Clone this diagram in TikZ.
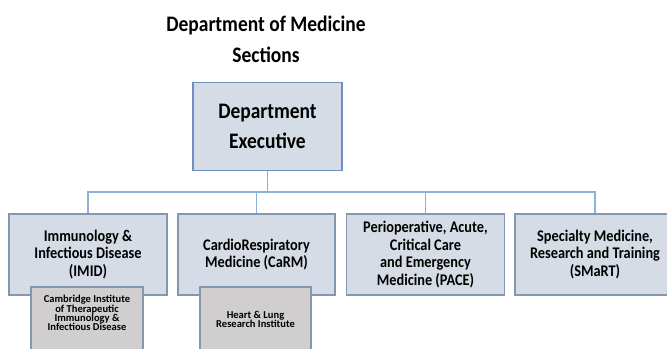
\documentclass[tikz,border=0pt]{standalone}
\usepackage{fontspec}
\setmainfont{Carlito}
\newfontfamily\narrowfont{Carlito}[FakeStretch=0.88]
\usetikzlibrary{positioning}

\definecolor{boxfill}{HTML}{D6DCE5}
\definecolor{subfill}{HTML}{D0CECE}
\definecolor{boxline}{HTML}{8497B0}
\definecolor{execline}{HTML}{6F8FC2}
\definecolor{busline}{HTML}{8FB1D9}

\tikzset{
  section/.style={draw=boxline, fill=boxfill, line width=0.9pt, align=center,
    minimum width=118.5pt, minimum height=60.75pt, inner sep=2pt,
    font=\narrowfont\bfseries\fontsize{12.2}{13.1}\selectfont},
  institute/.style={draw=boxline, fill=subfill, line width=0.9pt,
    minimum width=84pt, minimum height=60pt},
  insttext/.style={align=center, inner sep=0pt,
    font=\bfseries\fontsize{7.9}{6.9}\selectfont},
  link/.style={draw=busline, line width=1.2pt}
}

\begin{document}
\begin{tikzpicture}[x=0.75pt, y=-0.75pt]
\useasboundingbox (0,0) rectangle (667,349);

% title
\node[align=center, font=\narrowfont\bfseries\fontsize{16.6}{23.25}\selectfont] (title) at (266,39) {Department of Medicine\\Sections};

% executive
\node[draw=execline, fill=boxfill, line width=0.9pt, align=center,
  minimum width=111.75pt, minimum height=66pt,
  font=\narrowfont\bfseries\fontsize{16.6}{22.5}\selectfont] (exec) at (267.5,126.5) {Department\\Executive};

% sections
\node[section] (imid)  at (88,254.5)  {Immunology \&\\Infectious Disease\\(IMID)};
\node[section, minimum width=117.75pt] (carm)  at (256.5,254.5) {CardioRespiratory\\Medicine (CaRM)};
\node[section] (pace)  at (425.5,254.5) {Perioperative, Acute,\\Critical Care\\and Emergency\\Medicine (PACE)};
\node[section, minimum width=120pt] (smart) at (595,254.5) {Specialty Medicine,\\Research and Training\\(SMaRT)};

% connectors
\coordinate (bus) at (267.5,192);
\draw[link] (exec.south) -- (bus);
\foreach \sec in {imid,carm,pace,smart}
  \draw[link] (bus) -| (\sec.north);

% institutes
\node[institute] (citiidbox) at (87,327) {};
\node[insttext] (citiid) at (87,313) {Cambridge Institute\\of Therapeutic\\Immunology \&\\Infectious Disease};
\node[institute, minimum width=83.25pt] (hlribox) at (255.5,327) {};
\node[insttext] (hlri) at (255.5,319.5) {Heart \& Lung\\Research Institute};

\end{tikzpicture}
\end{document}
